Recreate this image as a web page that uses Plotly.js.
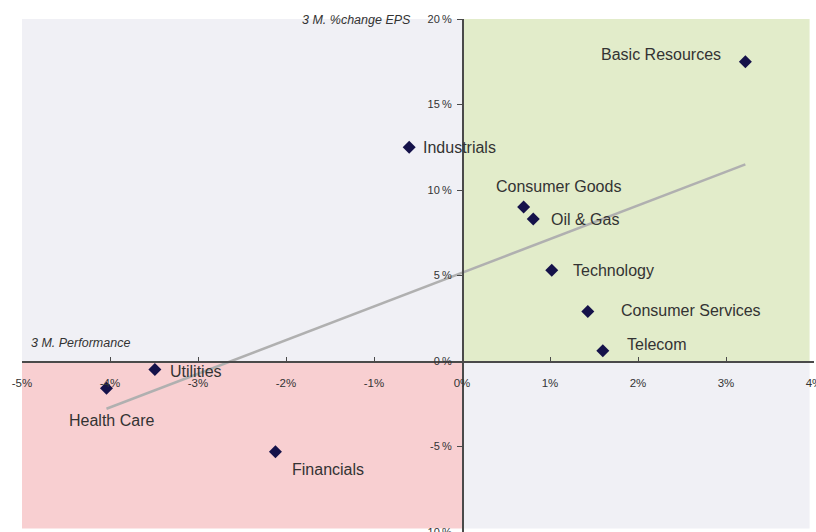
<!DOCTYPE html>
<html>
<head>
<meta charset="utf-8">
<script src="https://cdn.plot.ly/plotly-3.0.1.min.js"></script>
<style>
  html, body { margin: 0; padding: 0; background: #fff; }
  #chart { width: 816px; height: 532px; }
</style>
</head>
<body>
<div id="chart"></div>
<script>
// ---- Data ----
const sectors = ["Basic Resources", "Industrials", "Consumer Goods", "Oil & Gas", "Technology",
                 "Consumer Services", "Telecom", "Utilities", "Health Care", "Financials"];
const performance3M = [3.22, -0.6, 0.70, 0.81, 1.02, 1.43, 1.60, -3.49, -4.04, -2.12]; // % (x)
const epsChange3M   = [17.5, 12.5, 9.0, 8.3, 5.3, 2.9, 0.6, -0.5, -1.6, -5.3];        // % (y)
const xTickVals = [-5, -4, -3, -2, -1, 0, 1, 2, 3, 4];
const yTickVals = [-10, -5, 0, 5, 10, 15, 20];
const xTitle = "3 M. Performance";
const yTitle = "3 M. %change EPS";

// ---- Linear trend (least squares over the points) ----
const n = performance3M.length;
const mx = performance3M.reduce((a, b) => a + b, 0) / n;
const my = epsChange3M.reduce((a, b) => a + b, 0) / n;
let sxy = 0, sxx = 0;
for (let i = 0; i < n; i++) {
  sxy += (performance3M[i] - mx) * (epsChange3M[i] - my);
  sxx += (performance3M[i] - mx) ** 2;
}
const slope = sxy / sxx, icpt = my - slope * mx;
const trendX = [Math.min(...performance3M), Math.max(...performance3M)];
const trendY = trendX.map(v => icpt + slope * v);

// ---- Label placement styles (pixel offsets) ----
const labelStyle = {
  "Basic Resources":   { xanchor: "right",  xshift: -22, yshift: 7 },
  "Industrials":       { xanchor: "left",   xshift: 12,  yshift: 0 },
  "Consumer Goods":    { xanchor: "left",   xshift: -30, yshift: 21 },
  "Oil & Gas":         { xanchor: "left",   xshift: 16,  yshift: 0 },
  "Technology":        { xanchor: "left",   xshift: 19,  yshift: 0 },
  "Consumer Services": { xanchor: "left",   xshift: 31,  yshift: 1 },
  "Telecom":           { xanchor: "left",   xshift: 22,  yshift: 6 },
  "Utilities":         { xanchor: "left",   xshift: 13,  yshift: -2 },
  "Health Care":       { xanchor: "center", xshift: 5,   yshift: -32 },
  "Financials":        { xanchor: "left",   xshift: 15,  yshift: -18 }
};

const FONT = "Liberation Sans, Arial, sans-serif";
const xr = [-5, 4], yr = [-10, 20];

const annotations = sectors.map((s, i) => ({
  x: performance3M[i], y: epsChange3M[i], xref: "x", yref: "y",
  text: s, showarrow: false,
  xanchor: labelStyle[s].xanchor, yanchor: "middle",
  xshift: labelStyle[s].xshift, yshift: labelStyle[s].yshift,
  font: { family: FONT, size: 16, color: "#333333" }
}));
annotations.push({
  x: 0, y: 20, xref: "x", yref: "y", text: "<i>" + yTitle + "</i>", showarrow: false,
  xanchor: "right", yanchor: "middle", xshift: -49, yshift: -1,
  font: { family: FONT, size: 12.5, color: "#333333" }
});
annotations.push({
  x: -5, y: 0, xref: "x", yref: "y", text: "<i>" + xTitle + "</i>", showarrow: false,
  xanchor: "left", yanchor: "middle", xshift: 7, yshift: 18,
  font: { family: FONT, size: 12.5, color: "#333333" }
});

const quad = (x0, x1, y0, y1, c) => ({
  type: "rect", xref: "x", yref: "y", x0, x1, y0, y1,
  fillcolor: c, line: { width: 0 }, layer: "below"
});

const traces = [
  {
    x: trendX, y: trendY, mode: "lines", type: "scatter", hoverinfo: "skip",
    line: { color: "#b0b0b0", width: 2.5 }
  },
  {
    x: performance3M, y: epsChange3M, text: sectors, mode: "markers", type: "scatter",
    marker: { symbol: "diamond", size: 10, color: "#15124a" }
  }
];

const layout = {
  width: 816, height: 532,
  margin: { l: 22, r: 2, t: 19, b: 0, pad: 0 },
  paper_bgcolor: "#ffffff", plot_bgcolor: "#ffffff",
  showlegend: false,
  font: { family: FONT, size: 11, color: "#333333" },
  xaxis: {
    range: xr, tickvals: xTickVals, ticktext: xTickVals.map(v => v + "%"),
    anchor: "free", position: (0 - yr[0]) / (yr[1] - yr[0]),
    showline: true, linecolor: "#4a4a4a", linewidth: 1.5,
    ticks: "inside", ticklen: 4, tickcolor: "#4a4a4a", tickwidth: 1,
    ticklabelstandoff: 11, ticklabeloverflow: "allow",
    showgrid: false, zeroline: false, fixedrange: true,
    tickfont: { family: FONT, size: 11.5, color: "#333333" }
  },
  yaxis: {
    range: yr, tickvals: yTickVals, ticktext: yTickVals.map(v => v + "\u2009%"),
    anchor: "free", position: (0 - xr[0]) / (xr[1] - xr[0]),
    showline: true, linecolor: "#4a4a4a", linewidth: 1.5,
    ticks: "outside", ticklen: 5, tickcolor: "#4a4a4a", tickwidth: 1,
    ticklabelstandoff: 3, ticklabeloverflow: "allow",
    showgrid: false, zeroline: false, fixedrange: true,
    tickfont: { family: FONT, size: 11, color: "#333333" }
  },
  shapes: [
    quad(-5, 0, 0, 20, "#f0f0f5"),
    quad(0, 3.95, 0, 20, "#e2ecca"),
    quad(-5, 0, -9.8, 0, "#f8cfd1"),
    quad(0, 3.95, -9.8, 0, "#f0f0f5")
  ],
  annotations: annotations
};

Plotly.newPlot("chart", traces, layout, { displayModeBar: false, staticPlot: true });
</script>
</body>
</html>
